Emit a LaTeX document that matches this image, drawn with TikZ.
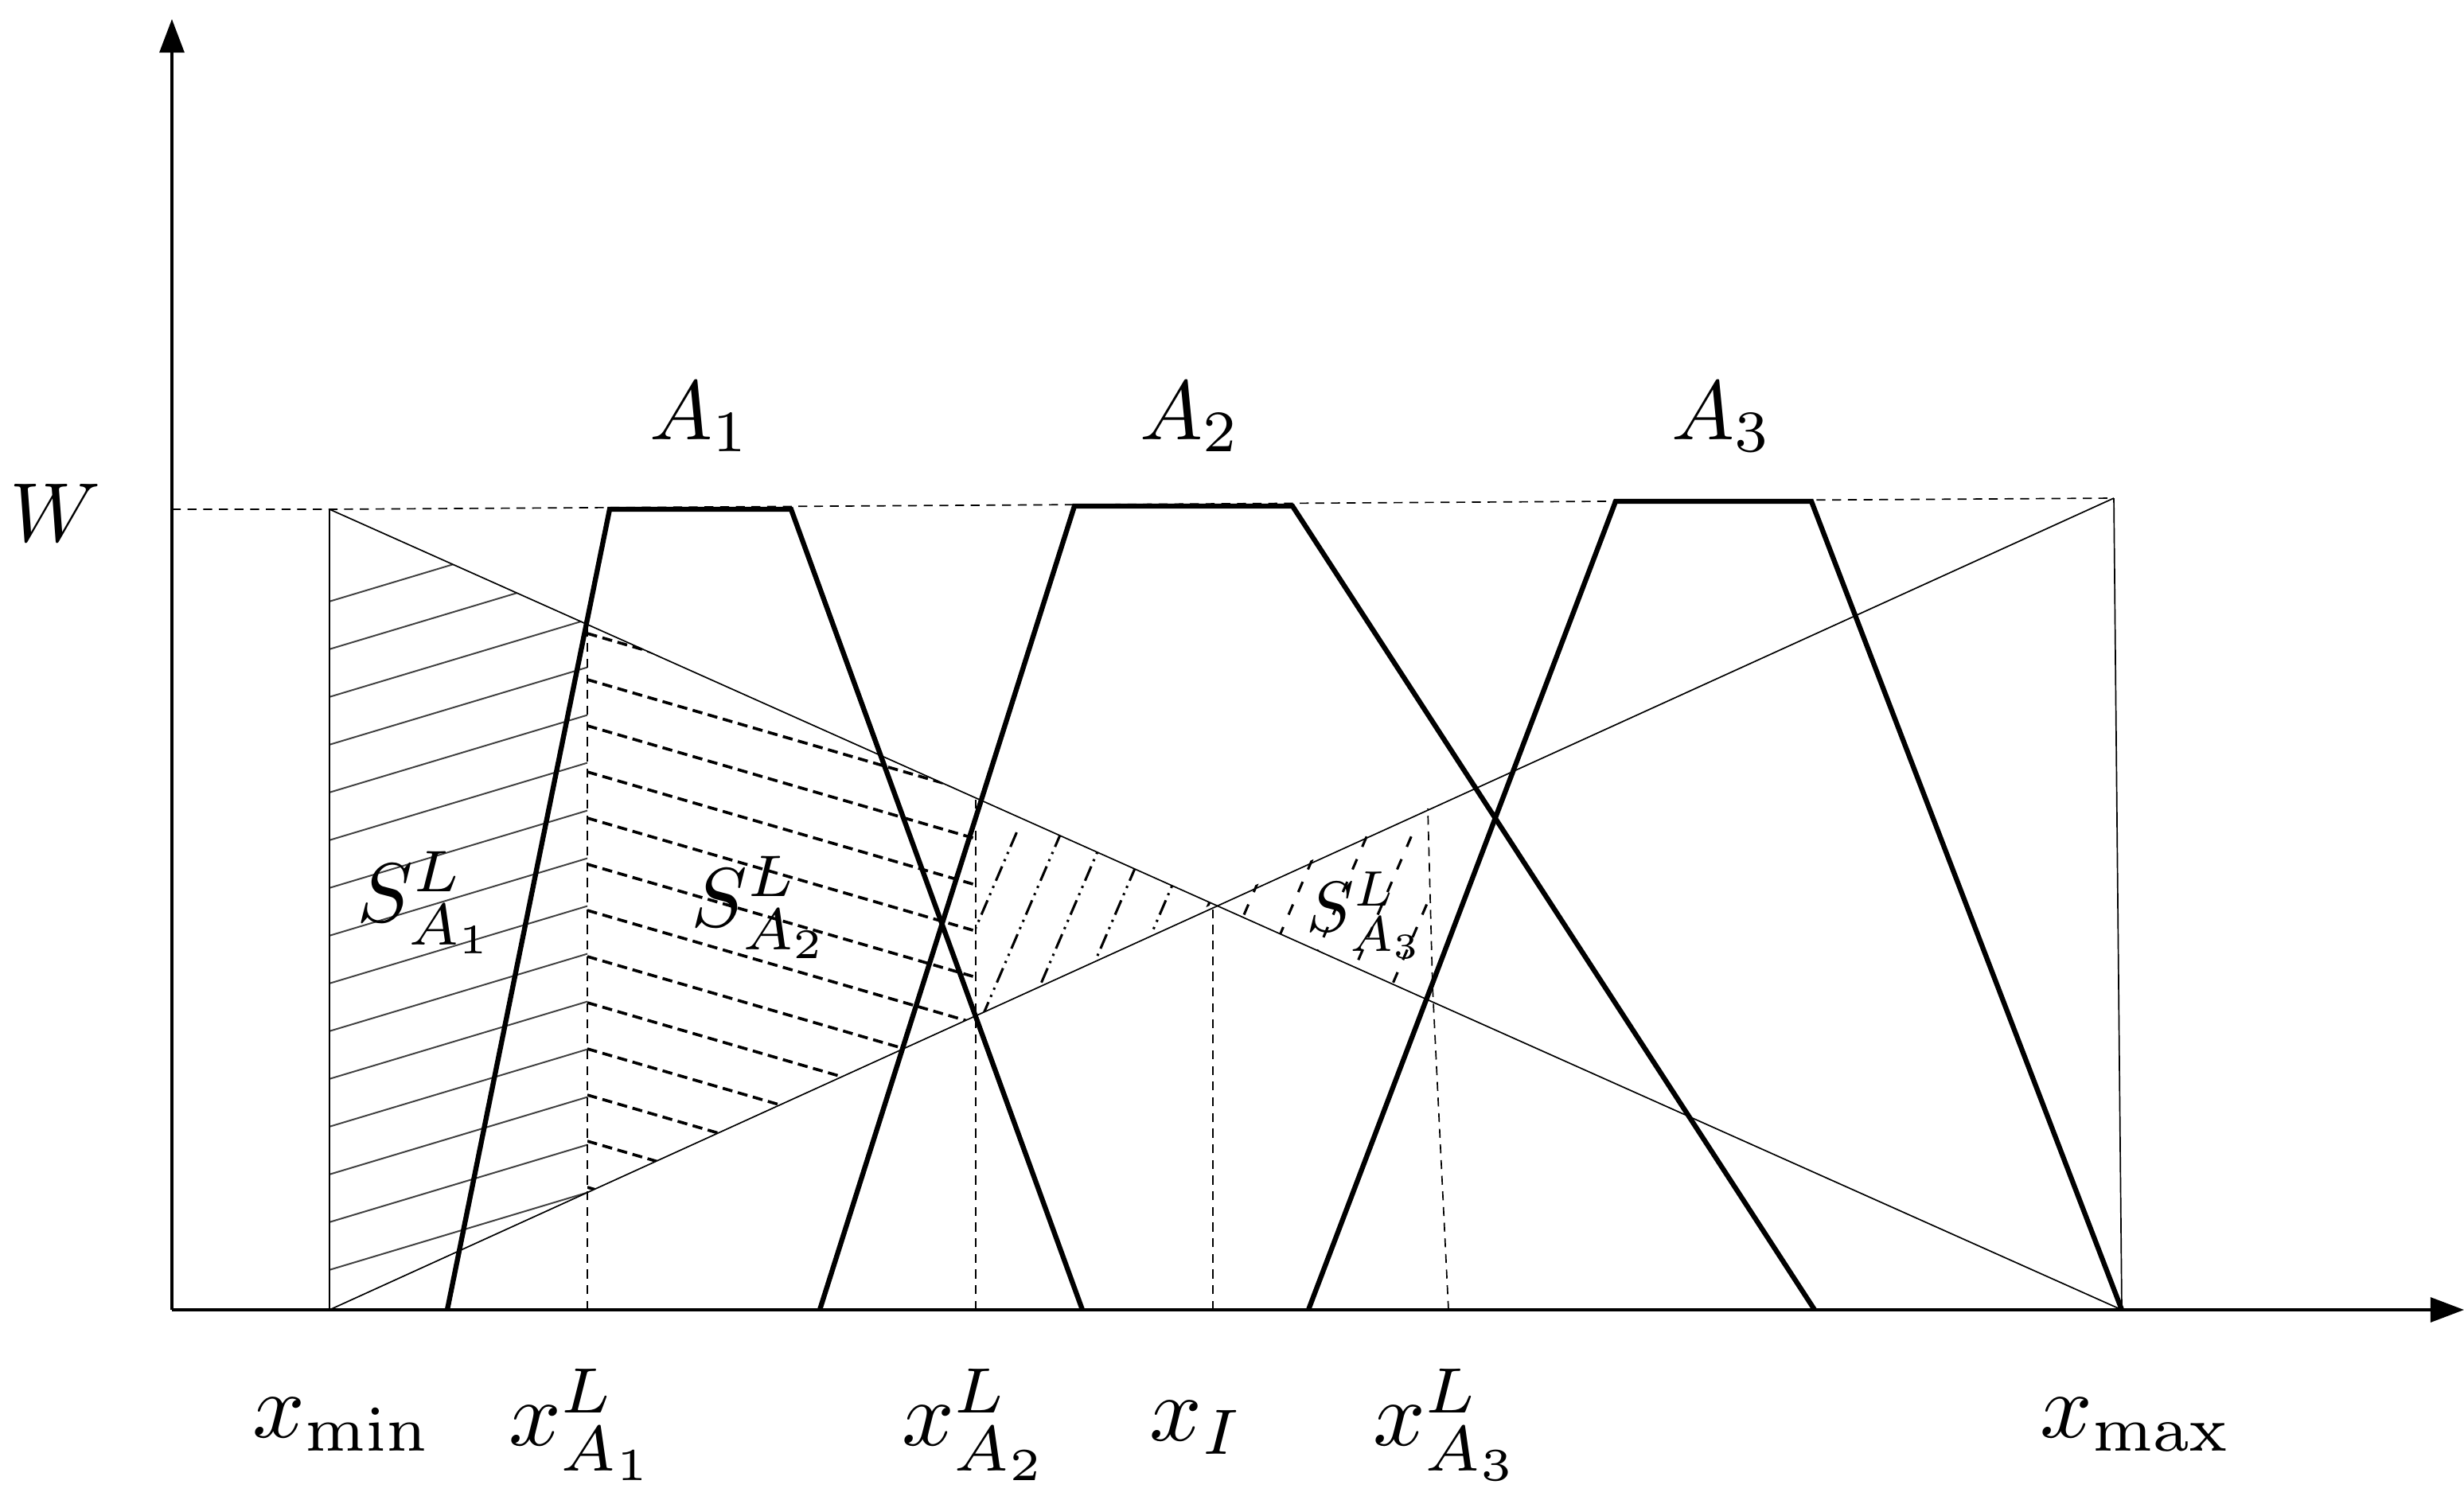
\documentclass[tikz,border=0pt]{standalone}
\usetikzlibrary{arrows.meta,calc}
\begin{document}
\begin{tikzpicture}[x=0.05cm,y=-0.05cm,
 thin/.style={line width=1.2pt},
 thick2/.style={line width=4.5pt},
 dsh/.style={line width=1.2pt,dash pattern=on 8pt off 6pt},
 lbl/.style={scale=7.5,transform shape},
 axl/.style={scale=8.2,transform shape}]
\useasboundingbox (0,0) rectangle (1548,942);
% key points
\coordinate (O) at (108,823);
\coordinate (ytop) at (108,12);
\coordinate (xend) at (1548,823);
\coordinate (a) at (207,320);
\coordinate (b) at (207,823);
\coordinate (c) at (1328,313);
\coordinate (d) at (1333,823);
\coordinate (w0) at (108,320);
% hatching S_A1
\begin{scope}
\clip (207,320) -- (369,392) -- (369,749) -- (207,823) -- cycle;
\foreach \i in {0,...,22} {\draw[line width=1.4pt,gray!50!black] (200,380+30*\i) -- (400,380+30*\i-60);}
\end{scope}
% S_A2
\begin{scope}
\clip (369,392) -- (613,501) -- (613,638) -- (369,749) -- cycle;
\foreach \i in {0,...,14} {\draw[line width=2.6pt,dash pattern=on 9pt off 5pt] (369,398+29*\i) -- (613,398+29*\i+71);}
\end{scope}
% region 3
\begin{scope}
\clip (613,501) -- (762,568) -- (613,638) -- cycle;
\foreach \i in {0,...,7} {\draw[line width=2.2pt,dash pattern=on 14pt off 5pt on 2pt off 5pt on 2pt off 5pt] (580+28*\i,660) -- (640+28*\i,520);}
\end{scope}
% region 4
\begin{scope}
\clip (762,568) -- (897,508) -- (897,628) -- cycle;
\foreach \i in {0,...,6} {\draw[line width=2.2pt,dash pattern=on 10pt off 12pt] (745+28*\i,660) -- (805+28*\i,520);}
\end{scope}
% axes
\draw[line width=2.5pt,-{Triangle[length=30pt,width=22pt]}] (O) -- (ytop);
\draw[line width=2.5pt,-{Triangle[length=30pt,width=22pt]}] (O) -- (xend);
% W dashed line
\draw[dsh] (w0) -- (a) -- (c);
% thin lines
\draw[thin] (a) -- (d);
\draw[thin] (b) -- (c);
\draw[thin] (c) -- (d);
\draw[thin] (a) -- (b);
% dashed verticals
\draw[dsh] (369,823) -- (369,392);
\draw[dsh] (613,823) -- (613,501);
\draw[dsh] (762,823) -- (762,568);
\draw[dsh] (910,823) -- (900,620) -- (897,508);
% trapezoids
\draw[thick2,line join=miter] (281,823) -- (383,320) -- (497,320) -- (680,823);
\draw[thick2,line join=miter] (515,823) -- (675,318) -- (812,318) -- (1140,823);
\draw[thick2,line join=miter] (822,823) -- (1015,315) -- (1138,315) -- (1333,823);
% labels
\node[lbl] (W) at (35,322) {$W$};
\node[lbl] (A1) at (440,262) {$A_1$};
\node[lbl] (A2) at (748,262) {$A_2$};
\node[lbl] (A3) at (1082,262) {$A_3$};
\node[lbl] (S1) at (268,567) {$S^L_{A_1}$};
\node[lbl] (S2) at (478,570) {$S^L_{A_2}$};
\node[lbl,scale=0.85] (S3) at (858,575) {$S^L_{A_3}$};
\node[axl] (xmin) at (215,895) {$x_{\rm min}$};
\node[axl] (x1) at (366,895) {$x^L_{A_1}$};
\node[axl] (x2) at (613,895) {$x^L_{A_2}$};
\node[axl] (xI) at (752,897) {$x_I$};
\node[axl] (x3) at (909,895) {$x^L_{A_3}$};
\node[axl] (xmax) at (1342,895) {$x_{\rm max}$};
\end{tikzpicture}
\end{document}
